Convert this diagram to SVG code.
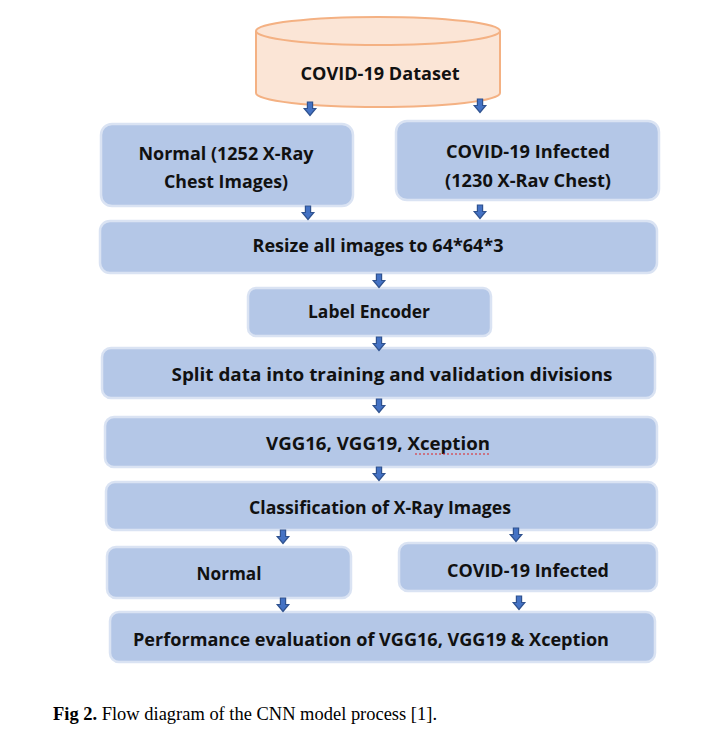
<svg xmlns="http://www.w3.org/2000/svg" width="717" height="735" viewBox="0 0 717 735">
<defs>
<style>
.box{fill:#B4C7E7;stroke:#DAE3F3;stroke-width:2.5}
.t{font-family:"Open Sans","Liberation Sans",sans-serif;font-weight:700;font-size:17px;fill:#111;text-anchor:middle}
.arr{fill:#4472C4;stroke:#2F528F;stroke-width:1.2}
.cap{font-family:"Liberation Serif","Times New Roman",serif;font-size:18px;fill:#000}
</style>
<path id="ar" class="arr" d="M-2.6,0 H2.6 V6.5 H5.8 L0,13.5 L-5.8,6.5 H-2.6 Z"/>
</defs>
<rect width="717" height="735" fill="#fff"/>

<g id="dataset">
<path d="M256,31 V93 A122,14 0 0 0 500,93 V31" fill="#FBE5D6" stroke="#F4B183" stroke-width="2"/>
<ellipse cx="378" cy="31" rx="122" ry="14" fill="#FBE5D6" stroke="#F4B183" stroke-width="2"/>
<text class="t" x="380" y="80" textLength="159" lengthAdjust="spacingAndGlyphs">COVID-19 Dataset</text>
</g>

<g id="normal-images">
<rect class="box" x="101" y="124" width="252" height="82" rx="11"/>
<text class="t" x="226" y="160" textLength="175" lengthAdjust="spacingAndGlyphs">Normal (1252 X-Ray</text>
<text class="t" x="226" y="188" textLength="124" lengthAdjust="spacingAndGlyphs">Chest Images)</text>
</g>

<g id="covid-images">
<rect class="box" x="396" y="121" width="263" height="79" rx="11"/>
<text class="t" x="528" y="158" textLength="164" lengthAdjust="spacingAndGlyphs">COVID-19 Infected</text>
<text class="t" x="528" y="187" textLength="166" lengthAdjust="spacingAndGlyphs">(1230 X-Rav Chest)</text>
</g>

<g id="resize">
<rect class="box" x="100" y="221" width="557" height="52" rx="10"/>
<text class="t" x="378" y="252" textLength="251" lengthAdjust="spacingAndGlyphs">Resize all images to 64*64*3</text>
</g>

<g id="label-encoder">
<rect class="box" x="248" y="288" width="243" height="48" rx="8"/>
<text class="t" x="369" y="318" textLength="122" lengthAdjust="spacingAndGlyphs">Label Encoder</text>
</g>

<g id="split">
<rect class="box" x="102" y="348" width="553" height="50" rx="9"/>
<text class="t" x="392" y="381" textLength="441" lengthAdjust="spacingAndGlyphs">Split data into training and validation divisions</text>
</g>

<g id="models">
<rect class="box" x="105" y="417" width="552" height="50" rx="9"/>
<text class="t" x="378" y="450" textLength="224" lengthAdjust="spacingAndGlyphs">VGG16, VGG19, Xception</text>
<line x1="415" y1="454" x2="490" y2="454" stroke="#E02020" stroke-width="1" stroke-dasharray="2,2"/>
</g>

<g id="classification">
<rect class="box" x="106" y="482" width="551" height="48" rx="9"/>
<text class="t" x="380" y="514" textLength="262" lengthAdjust="spacingAndGlyphs">Classification of X-Ray Images</text>
</g>

<g id="normal-result">
<rect class="box" x="107" y="547" width="244" height="51" rx="9"/>
<text class="t" x="229" y="580" textLength="65" lengthAdjust="spacingAndGlyphs">Normal</text>
</g>

<g id="covid-result">
<rect class="box" x="399" y="543" width="258" height="48" rx="9"/>
<text class="t" x="528" y="577" textLength="162" lengthAdjust="spacingAndGlyphs">COVID-19 Infected</text>
</g>

<g id="performance">
<rect class="box" x="110" y="612" width="545" height="50" rx="9"/>
<text class="t" x="371" y="646" textLength="476" lengthAdjust="spacingAndGlyphs">Performance evaluation of VGG16, VGG19 &amp; Xception</text>
</g>

<g id="connectors">
<use href="#ar" x="310" y="102"/>
<use href="#ar" x="480" y="99"/>
<use href="#ar" x="308" y="206"/>
<use href="#ar" x="480" y="205"/>
<use href="#ar" x="379" y="274"/>
<use href="#ar" x="379" y="337"/>
<use href="#ar" x="379" y="399"/>
<use href="#ar" x="379" y="467"/>
<use href="#ar" x="283" y="530"/>
<use href="#ar" x="516" y="528"/>
<use href="#ar" x="283" y="598"/>
<use href="#ar" x="519" y="596"/>
</g>

<text class="cap" x="53" y="720" textLength="384" lengthAdjust="spacingAndGlyphs"><tspan font-weight="bold">Fig 2.</tspan> Flow diagram of the CNN model process [1].</text>
</svg>
